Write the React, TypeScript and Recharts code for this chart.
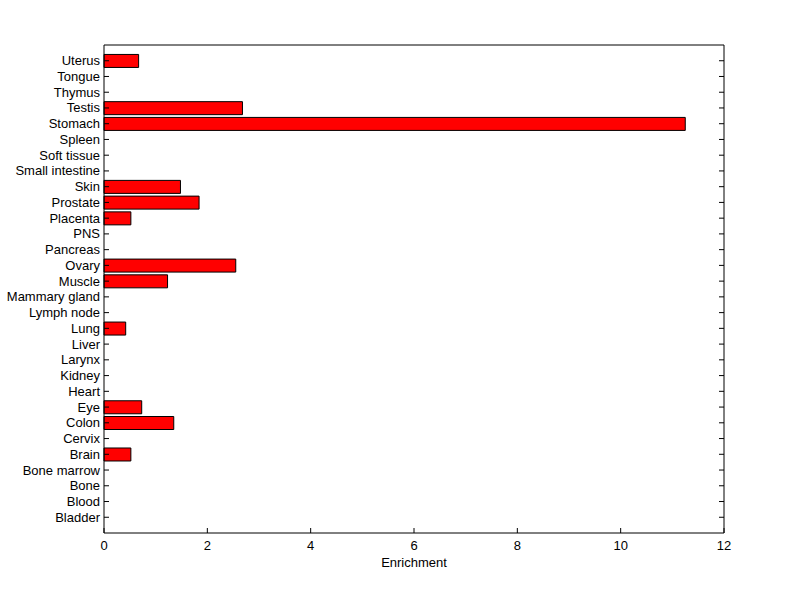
import { BarChart, Bar, XAxis, YAxis } from 'recharts';

const tissues = [
  'Uterus', 'Tongue', 'Thymus', 'Testis', 'Stomach', 'Spleen', 'Soft tissue',
  'Small intestine', 'Skin', 'Prostate', 'Placenta', 'PNS', 'Pancreas', 'Ovary',
  'Muscle', 'Mammary gland', 'Lymph node', 'Lung', 'Liver', 'Larynx', 'Kidney',
  'Heart', 'Eye', 'Colon', 'Cervix', 'Brain', 'Bone marrow', 'Bone', 'Blood', 'Bladder',
];

const enrichment = [
  0.67, 0, 0, 2.68, 11.25, 0, 0,
  0, 1.48, 1.84, 0.52, 0, 0, 2.55,
  1.23, 0, 0, 0.42, 0, 0, 0,
  0, 0.73, 1.35, 0, 0.52, 0, 0, 0, 0,
];

const xTicks = [0, 2, 4, 6, 8, 10, 12];

const data = tissues.map((name, i) => ({ name, value: enrichment[i] }));

const FONT = 'Arial, "Liberation Sans", sans-serif';
const FS = 13;
const TICK = 5;
const ROW_PAD = 488 / 31 / 2;

function LeftTick({ x, y, payload }: any) {
  return (
    <g>
      <line x1={x} x2={x + TICK} y1={y} y2={y} stroke="#000" />
      <text x={x - 4} y={y} textAnchor="end" dominantBaseline="central" fontSize={FS} fontFamily={FONT} fill="#000">
        {payload.value}
      </text>
    </g>
  );
}

function RightTick({ x, y }: any) {
  return <line x1={x - TICK} x2={x} y1={y} y2={y} stroke="#000" />;
}

function BottomTick({ x, y, payload }: any) {
  return (
    <g>
      <line x1={x} x2={x} y1={y} y2={y - TICK} stroke="#000" />
      <text x={x} y={y + 12} textAnchor="middle" dominantBaseline="central" fontSize={FS} fontFamily={FONT} fill="#000">
        {payload.value}
      </text>
    </g>
  );
}

function TopTick({ x, y }: any) {
  return <line x1={x} x2={x} y1={y} y2={y + TICK} stroke="#000" />;
}

function AxisTitle({ viewBox }: any) {
  const { x, y, width } = viewBox;
  return (
    <text x={x + width / 2} y={y + 29} textAnchor="middle" dominantBaseline="central" fontSize={FS} fontFamily={FONT} fill="#000">
      Enrichment
    </text>
  );
}

export default function App() {
  return (
    <div style={{ position: 'absolute', left: 0, top: 0, background: '#fff' }}>
      <BarChart
        width={800}
        height={599}
        data={data}
        layout="vertical"
        margin={{ top: 0, right: 0, bottom: 0, left: 0 }}
        barCategoryGap="10%"
      >
        <XAxis
          type="number"
          domain={[0, 12]}
          ticks={xTicks}
          orientation="bottom"
          height={66}
          axisLine={{ stroke: '#000' }}
          tickLine={false}
          tickSize={0}
          tickMargin={0}
          tick={<BottomTick />}
          interval={0}
          label={<AxisTitle />}
        />
        <XAxis
          xAxisId="top"
          type="number"
          domain={[0, 12]}
          ticks={xTicks}
          orientation="top"
          height={45}
          axisLine={{ stroke: '#000' }}
          tickLine={false}
          tickSize={0}
          tickMargin={0}
          tick={<TopTick />}
          interval={0}
        />
        <YAxis
          type="category"
          dataKey="name"
          width={104}
          axisLine={{ stroke: '#000' }}
          tickLine={false}
          tickSize={0}
          tickMargin={0}
          tick={<LeftTick />}
          interval={0}
          padding={{ top: ROW_PAD, bottom: ROW_PAD }}
        />
        <YAxis
          yAxisId="r"
          type="category"
          dataKey="name"
          orientation="right"
          width={76}
          axisLine={{ stroke: '#000' }}
          tickLine={false}
          tickSize={0}
          tickMargin={0}
          tick={<RightTick />}
          interval={0}
          padding={{ top: ROW_PAD, bottom: ROW_PAD }}
        />
        <Bar dataKey="value" fill="#ff0000" stroke="#000" strokeWidth={1} isAnimationActive={false} />
      </BarChart>
    </div>
  );
}
